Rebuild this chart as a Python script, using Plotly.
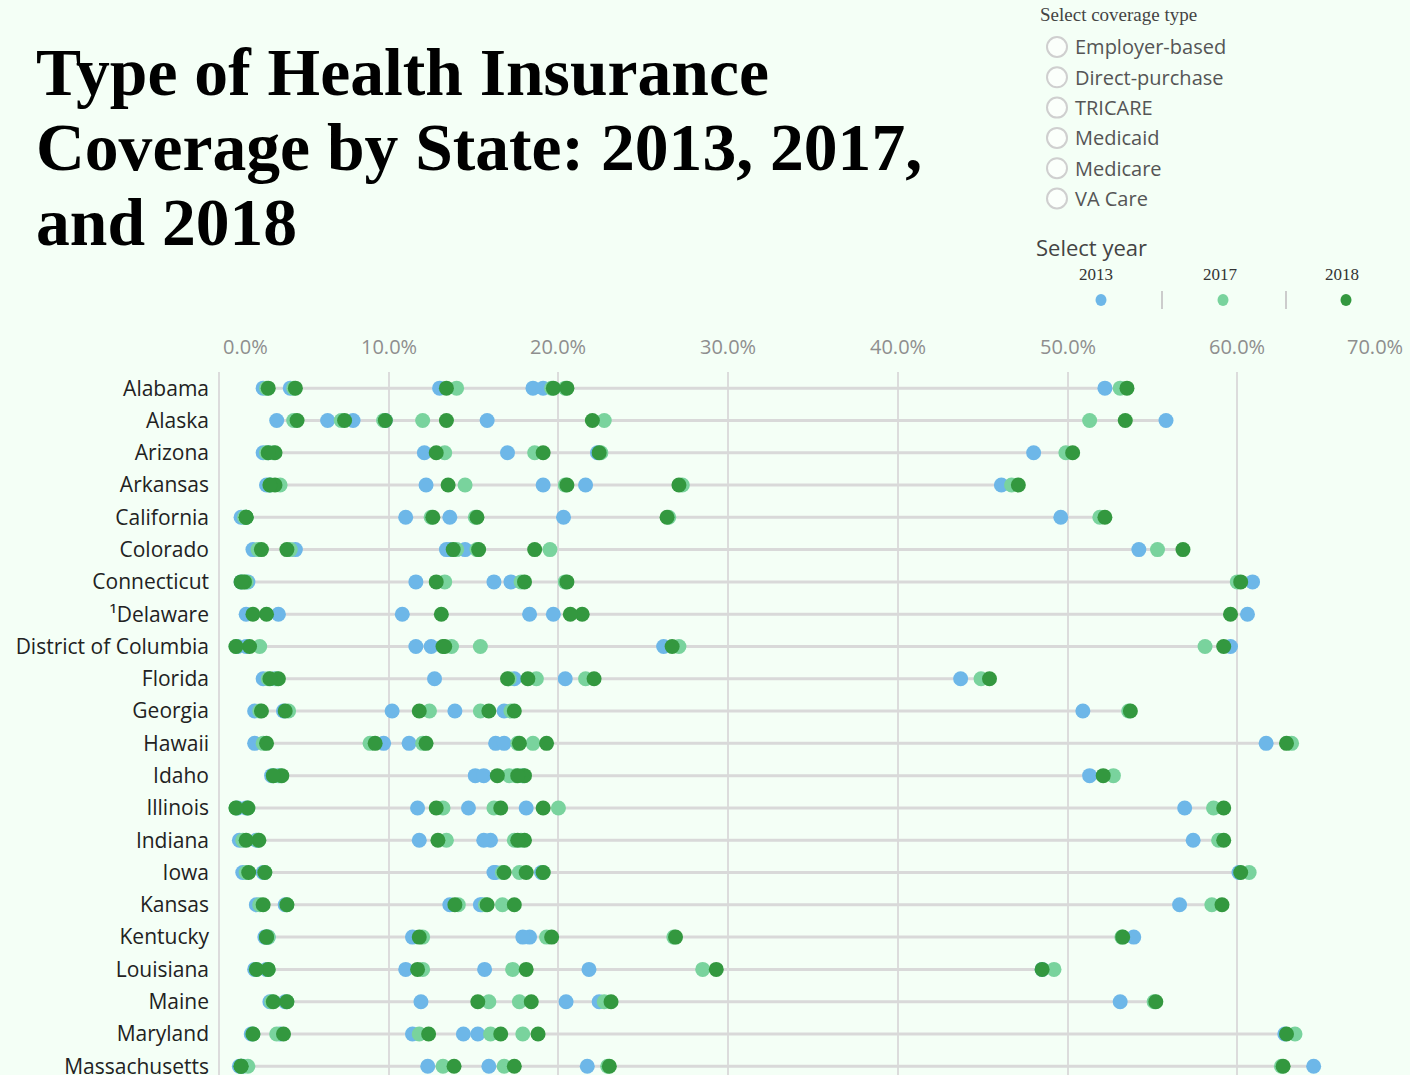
import plotly.graph_objects as go

# ---------------- data (percent of population) ----------------
states = ["Alabama", "Alaska", "Arizona", "Arkansas", "California", "Colorado",
          "Connecticut", "¹Delaware", "District of Columbia", "Florida", "Georgia",
          "Hawaii", "Idaho", "Illinois", "Indiana", "Iowa", "Kansas", "Kentucky",
          "Louisiana", "Maine", "Maryland", "Massachusetts"]

years = ["2013", "2017", "2018"]
coverage_types = ["Employer-based", "Direct-purchase", "TRICARE", "Medicaid", "Medicare", "VA Care"]
x_ticks = [0, 10, 20, 30, 40, 50, 60, 70]
x_tick_labels = ["0.0%", "10.0%", "20.0%", "30.0%", "40.0%", "50.0%", "60.0%", "70.0%"]

# Employer-based
emp_2013 = [52.2, 55.8, 48.0, 46.1, 49.6, 54.2, 60.9, 60.6, 59.6, 43.7, 50.9, 61.7, 51.3, 56.9, 57.4, 60.1, 56.6, 53.9, 48.5, 53.1, 62.8, 64.5]
emp_2017 = [53.1, 51.3, 49.9, 46.7, 51.9, 55.3, 60.0, None, 58.1, 44.9, 53.6, 63.2, 52.7, 58.6, 58.9, 60.7, 58.5, 53.2, 49.2, 55.1, 63.4, 62.6]
emp_2018 = [53.5, 53.4, 50.3, 47.1, 52.2, 56.8, 60.2, 59.6, 59.2, 45.4, 53.7, 62.9, 52.1, 59.2, 59.2, 60.2, 59.1, 53.25, 48.5, 55.2, 62.9, 62.7]
# Direct-purchase
dir_2013 = [13.0, 6.4, 12.1, 12.2, 11.0, 13.6, 11.6, 10.8, 12.5, 12.7, 10.2, 11.2, 15.1, 11.7, 11.8, 16.2, 13.6, 11.4, 11.0, 11.9, 11.4, 12.3]
dir_2017 = [14.0, 7.2, 13.3, 14.5, 12.5, 14.0, 13.3, None, 15.4, 17.1, 12.4, 12.0, 17.1, 13.2, 13.4, 16.7, 14.1, 12.0, 12.0, 15.9, 11.8, 13.2]
dir_2018 = [13.4, 7.4, 12.8, 13.5, 12.6, 13.8, 12.8, 13.1, 13.2, 17.0, 11.8, 12.2, 16.4, 12.8, 12.9, 16.8, 13.9, 11.8, 11.7, 15.25, 12.35, 13.85]
# TRICARE
tri_2013 = [4.2, 7.9, 2.9, 3.0, 1.5, 4.5, 1.7, 3.5, 1.6, 3.3, 3.8, 9.7, 3.5, 1.6, 2.2, 2.6, 3.9, 2.9, 2.8, 3.9, 3.6, 1.4]
tri_2017 = [4.4, 9.7, 3.2, 3.6, 1.6, 4.2, 1.6, None, 2.4, 3.4, 4.1, 8.9, 3.6, 1.7, 2.3, 2.7, 4.0, 2.9, 2.9, 4.0, 3.4, 1.7]
tri_2018 = [4.5, 9.8, 3.3, 3.3, 1.6, 4.0, 1.5, 2.8, 1.8, 3.5, 3.9, 9.2, 3.7, 1.7, 2.35, 2.7, 4.0, 2.8, 2.9, 4.0, 3.8, 1.3]
# Medicaid
mcd_2013 = [18.5, 15.8, 22.3, 21.6, 20.3, 13.4, 16.2, 18.3, 26.2, 17.4, 16.8, 16.3, 17.9, 18.1, 16.0, 16.3, 15.5, 18.3, 21.8, 20.45, 15.25, 21.7]
mcd_2017 = [19.6, 22.7, 22.5, 27.3, 26.5, 19.5, 20.4, None, 27.1, 18.7, 17.2, 17.6, 17.9, 20.0, 17.8, 17.7, 15.7, 26.8, 28.5, 17.7, 17.9, 22.9]
mcd_2018 = [19.7, 22.0, 22.4, 27.1, 26.4, 18.6, 20.5, 21.4, 26.7, 18.2, 17.4, 17.7, 18.0, 19.1, 18.0, 18.1, 15.8, 26.9, 29.3, 18.4, 18.8, 23.0]
# Medicare
mcr_2013 = [19.1, 9.8, 17.0, 19.1, 13.6, 14.5, 17.2, 19.7, 11.6, 20.4, 13.9, 16.8, 15.6, 14.7, 15.6, 19.0, 15.4, 17.9, 15.65, 22.4, 14.4, 15.9]
mcr_2017 = [20.4, 12.0, 18.6, 20.4, 15.1, 15.2, 17.8, None, 13.7, 21.6, 15.4, 18.5, 17.5, 16.2, 17.4, 19.1, 16.7, 19.3, 17.3, 22.7, 16.0, 16.8]
mcr_2018 = [20.5, 13.4, 19.1, 20.5, 15.2, 15.3, 18.0, 20.7, 13.3, 22.1, 15.9, 19.3, 17.6, 16.6, 17.6, 19.1, 17.4, 19.6, 18.1, 23.1, 16.6, 17.4]
# VA Care
va_2013 = [2.6, 3.4, 2.6, 2.8, 1.3, 2.0, 1.3, 1.6, 1.1, 2.6, 2.1, 2.1, 3.1, 1.1, 1.2, 1.4, 2.2, 2.7, 2.1, 3.0, 1.9, 1.2]
va_2017 = [2.8, 4.4, 2.8, 3.0, 1.5, 2.3, 1.4, None, 1.0, 2.9, 2.4, 2.6, 3.2, 1.0, 1.4, 1.6, 2.4, 2.8, 2.2, 3.1, 2.0, 1.3]
va_2018 = [2.9, 4.6, 2.9, 3.0, 1.6, 2.5, 1.3, 2.0, 1.0, 3.0, 2.5, 2.8, 3.2, 1.0, 1.6, 1.75, 2.6, 2.8, 2.2, 3.2, 2.0, 1.3]

series = {
    "2013": [emp_2013, dir_2013, tri_2013, mcd_2013, mcr_2013, va_2013],
    "2017": [emp_2017, dir_2017, tri_2017, mcd_2017, mcr_2017, va_2017],
    "2018": [emp_2018, dir_2018, tri_2018, mcd_2018, mcr_2018, va_2018],
}
year_colors = {"2013": "#6db7e8", "2017": "#79d39d", "2018": "#33983f"}

# ---------------- geometry helpers (figure pixels -> paper) ----------------
W, H = 1410, 1075
ML, MR, MT, MB = 219, 3, 372, 0
PW, PH = W - ML - MR, H - MT - MB


def px(x):
    return (x - ML) / PW


def py(y):
    return (H - MB - y) / PH


BG = "#f4fff6"
SANS = "Open Sans, Segoe UI, sans-serif"
SERIF = "Liberation Serif, Times New Roman, serif"

fig = go.Figure()

# grey connecting line per state (min to max of all its values)
lx, ly = [], []
for i in range(len(states)):
    vals = [v for yr in years for lst in series[yr] for v in [lst[i]] if v is not None]
    lx += [min(vals), max(vals), None]
    ly += [i, i, None]
fig.add_trace(go.Scatter(x=lx, y=ly, mode="lines", line=dict(color="#d9d9d9", width=3),
                         hoverinfo="skip", showlegend=False))

# dots per year
for yr in years:
    xs, ys, txt = [], [], []
    for t, lst in zip(coverage_types, series[yr]):
        for i, v in enumerate(lst):
            if v is None:
                continue
            xs.append(v)
            ys.append(i)
            txt.append(f"{states[i]} – {t} ({yr}): {v:.1f}%")
    fig.add_trace(go.Scatter(x=xs, y=ys, mode="markers", name=yr, text=txt, hoverinfo="text",
                             marker=dict(color=year_colors[yr], size=15, line=dict(width=0)),
                             showlegend=False))

annotations = []
shapes = []

# x tick labels (top)
for v, lab in zip(x_ticks, x_tick_labels):
    anchor = "center"
    shift = 0
    if v == x_ticks[0]:
        anchor, shift = "left", 2
    elif v == x_ticks[-1]:
        anchor, shift = "right", -2
    annotations.append(dict(x=v, y=py(347), xref="x", yref="paper", text=lab, showarrow=False,
                            xanchor=anchor, yanchor="middle", xshift=shift,
                            font=dict(family=SANS, size=20, color="#8e8e8e")))

# Title
for line, base in [("Type of Health Insurance", 95), ("Coverage by State: 2013, 2017,", 170), ("and 2018", 245)]:
    annotations.append(dict(x=px(34), y=py(base - 62), xref="paper", yref="paper", text=f"<b>{line}</b>",
                            showarrow=False, xanchor="left", yanchor="top",
                            font=dict(family=SERIF, size=67.6, color="#000000")))

# coverage type selector
annotations.append(dict(x=px(1038), y=py(15), xref="paper", yref="paper", text="Select coverage type",
                        showarrow=False, xanchor="left", yanchor="middle",
                        font=dict(family=SERIF, size=19, color="#444444")))
for k, t in enumerate(coverage_types):
    cy = 47 + k * 30.3
    shapes.append(dict(type="circle", xref="paper", yref="paper", xsizemode="pixel", ysizemode="pixel",
                       xanchor=px(1057), yanchor=py(cy), x0=-10, x1=10, y0=-10, y1=10,
                       line=dict(color="#cfcfcf", width=2), fillcolor="#fbfffb"))
    annotations.append(dict(x=px(1073), y=py(cy), xref="paper", yref="paper", text=t, showarrow=False,
                            xanchor="left", yanchor="middle",
                            font=dict(family=SANS, size=20, color="#555555")))

# year selector
annotations.append(dict(x=px(1034), y=py(247), xref="paper", yref="paper", text="Select year",
                        showarrow=False, xanchor="left", yanchor="middle",
                        font=dict(family=SANS, size=22, color="#444444")))
for yr, cx, dx in zip(years, [1096, 1220, 1342], [1101, 1223, 1346]):
    annotations.append(dict(x=px(cx), y=py(274), xref="paper", yref="paper", text=yr, showarrow=False,
                            xanchor="center", yanchor="middle",
                            font=dict(family=SERIF, size=17, color="#333333")))
    shapes.append(dict(type="circle", xref="paper", yref="paper", xsizemode="pixel", ysizemode="pixel",
                       xanchor=px(dx), yanchor=py(300), x0=-5.5, x1=5.5, y0=-6, y1=6,
                       line=dict(width=0), fillcolor=year_colors[yr]))
for sx in [1162, 1286]:
    shapes.append(dict(type="line", xref="paper", yref="paper", x0=px(sx), x1=px(sx), y0=py(291), y1=py(309),
                       line=dict(color="#cccccc", width=2)))

fig.update_layout(
    width=W, height=H,
    margin=dict(l=ML, r=MR, t=MT, b=MB, autoexpand=False),
    paper_bgcolor=BG, plot_bgcolor=BG,
    annotations=annotations, shapes=shapes,
    xaxis=dict(range=[0, 70], side="top", tickmode="array", tickvals=x_ticks, showticklabels=False,
               showgrid=True, gridcolor="#dcdcdc", gridwidth=2, zeroline=True, zerolinecolor="#dcdcdc",
               zerolinewidth=2, showline=False, ticks="", fixedrange=True, automargin=False),
    yaxis=dict(range=[21.27, -0.5], tickmode="array", tickvals=list(range(len(states))), ticktext=states,
               showgrid=False, zeroline=False, ticks="", ticklabelstandoff=9, ticklabeloverflow="allow",
               tickfont=dict(family=SANS, size=21, color="#222222"), fixedrange=True, automargin=False),
    hovermode="closest",
)

fig.write_html("out.html", config={"displayModeBar": False},
               post_script="document.body.style.margin='0';document.body.style.overflow='hidden';")
